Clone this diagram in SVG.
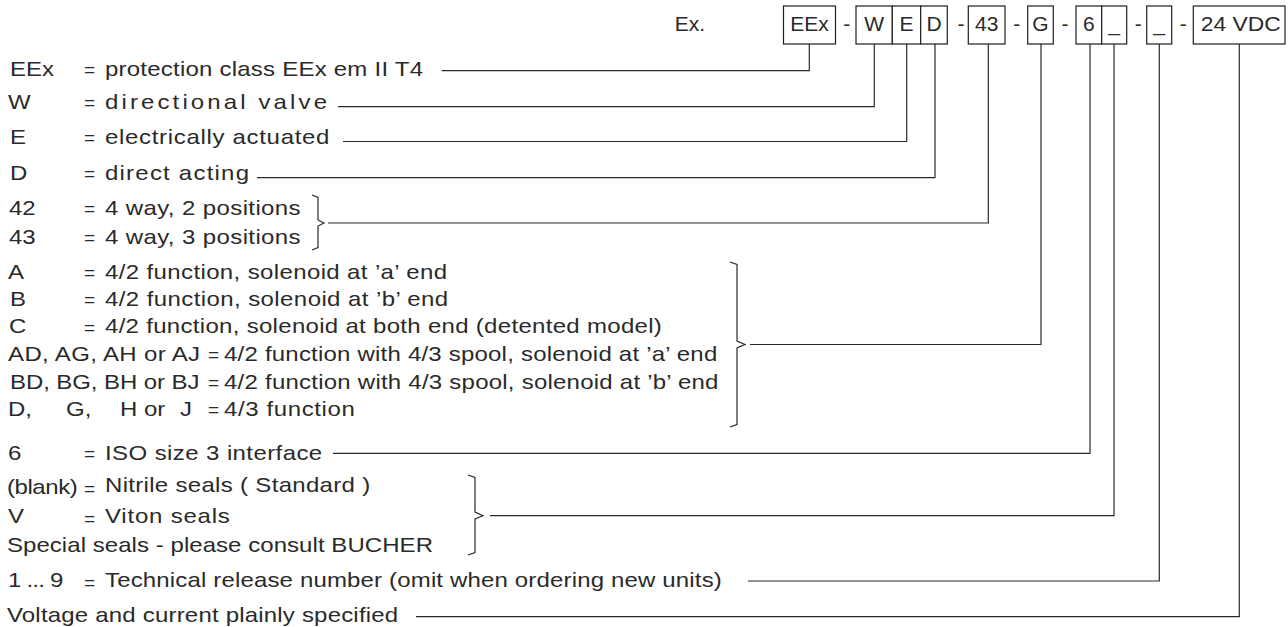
<svg xmlns="http://www.w3.org/2000/svg" width="1288" height="627" viewBox="0 0 1288 627">
<style>
.t{font-family:"Liberation Sans",Arial,Helvetica,sans-serif;font-size:20px;fill:#2a2a2a}
.q{font-family:"Liberation Sans",Arial,Helvetica,sans-serif;font-size:19px;fill:#2a2a2a}
.h{font-family:"Liberation Sans",Arial,Helvetica,sans-serif;font-size:21px;fill:#2a2a2a;text-anchor:middle}
.bx{fill:#fff;stroke:#1e1e1e;stroke-width:1.2}
.ln{fill:none;stroke:#2a2a2a;stroke-width:1.2}
</style>
<rect width="1288" height="627" fill="#fff"/>
<g id="connectors">
<path class="ln" d="M441.7 70.7 H809.3 V44"/>
<path class="ln" d="M338 106.7 H874.3 V44"/>
<path class="ln" d="M343 141.5 H906.7 V44"/>
<path class="ln" d="M257 177.7 H935 V44"/>
<path class="ln" d="M328 223 H988.3 V44"/>
<path class="ln" d="M750 344.5 H1041 V44"/>
<path class="ln" d="M333 453.3 H1090 V44"/>
<path class="ln" d="M490 515.7 H1114 V44"/>
<path class="ln" d="M748 581 H1159.3 V44"/>
<path class="ln" d="M416 616.7 H1239.3 V44"/>
<path class="ln" d="M312 195 L318 197.5 V220 L324 223 L318 226 V247.5 L312 250"/>
<path class="ln" d="M730 262 L737 264.5 V341 L745 344.5 L737 348 V424.5 L730 427"/>
<path class="ln" d="M468 475 L475 477.5 V512 L483 515.7 L475 519 V552.5 L468 555"/>
</g>
<g id="header">
<text class="h" x="690" y="31">Ex.</text>
<text class="h" x="846.7" y="31">-</text>
<text class="h" x="961" y="31">-</text>
<text class="h" x="1016.7" y="31">-</text>
<text class="h" x="1065" y="31">-</text>
<text class="h" x="1138.3" y="31">-</text>
<text class="h" x="1183.3" y="31">-</text>
</g>
<g id="box-EEx"><rect class="bx" x="783.5" y="6" width="52" height="38"/><text class="h" x="809.5" y="31">EEx</text></g>
<g id="box-W"><rect class="bx" x="856" y="6" width="36.3" height="38"/><text class="h" x="874.2" y="31">W</text></g>
<g id="box-E"><rect class="bx" x="892.3" y="6" width="28.4" height="38"/><text class="h" x="906.5" y="31">E</text></g>
<g id="box-D"><rect class="bx" x="920.7" y="6" width="26.6" height="38"/><text class="h" x="934" y="31">D</text></g>
<g id="box-43"><rect class="bx" x="968.3" y="6" width="36.7" height="38"/><text class="h" x="986.7" y="31">43</text></g>
<g id="box-G"><rect class="bx" x="1027.7" y="6" width="25.6" height="38"/><text class="h" x="1040.5" y="31">G</text></g>
<g id="box-6"><rect class="bx" x="1076" y="6" width="25.7" height="38"/><text class="h" x="1088.9" y="31">6</text></g>
<g id="box-seal"><rect class="bx" x="1101.7" y="6" width="25" height="38"/><text class="h" x="1114.2" y="31">_</text></g>
<g id="box-release"><rect class="bx" x="1146.7" y="6" width="25" height="38"/><text class="h" x="1159.2" y="31">_</text></g>
<g id="box-voltage"><rect class="bx" x="1193.3" y="6" width="91.7" height="38"/><text class="h" x="1240.7" y="31" textLength="80" lengthAdjust="spacingAndGlyphs">24 VDC</text></g>

<g id="leg-EEx"><text class="q" x="84" y="76">=</text><g class="t" transform="scale(1.2 1)"><text x="8.3" y="76">EEx</text><text x="87.5" y="76" textLength="265" lengthAdjust="spacing">protection class EEx em II T4</text></g></g>
<g id="leg-W"><text class="q" x="84" y="109">=</text><g class="t" transform="scale(1.2 1)"><text x="6.7" y="109">W</text><text x="87.5" y="109" textLength="185" lengthAdjust="spacing">directional valve</text></g></g>
<g id="leg-E"><text class="q" x="84" y="144">=</text><g class="t" transform="scale(1.2 1)"><text x="8.3" y="144">E</text><text x="87.5" y="144" textLength="187" lengthAdjust="spacing">electrically actuated</text></g></g>
<g id="leg-D"><text class="q" x="84" y="180">=</text><g class="t" transform="scale(1.2 1)"><text x="8.3" y="180">D</text><text x="87.5" y="180" textLength="120" lengthAdjust="spacing">direct acting</text></g></g>
<g id="leg-ways"><text class="q" x="84" y="215">=</text><text class="q" x="84" y="244">=</text><g class="t" transform="scale(1.2 1)"><text x="7.5" y="215">42</text><text x="87.5" y="215" textLength="163" lengthAdjust="spacing">4 way, 2 positions</text><text x="7.5" y="244">43</text><text x="87.5" y="244" textLength="163" lengthAdjust="spacing">4 way, 3 positions</text></g></g>
<g id="leg-function">
<text class="q" x="84" y="279">=</text><text class="q" x="84" y="306">=</text><text class="q" x="84" y="333.5">=</text><text class="q" x="208" y="361">=</text><text class="q" x="208" y="389">=</text><text class="q" x="208" y="416">=</text>
<g class="t" transform="scale(1.2 1)">
<text x="6.7" y="279">A</text><text x="87.5" y="279" textLength="285" lengthAdjust="spacing">4/2 function, solenoid at ’a’ end</text>
<text x="8.3" y="306">B</text><text x="87.5" y="306" textLength="286" lengthAdjust="spacing">4/2 function, solenoid at ’b’ end</text>
<text x="7.5" y="333.5">C</text><text x="87.5" y="333.5" textLength="464" lengthAdjust="spacing">4/2 function, solenoid at both end (detented model)</text>
<text x="6.7" y="361" textLength="160" lengthAdjust="spacing">AD, AG, AH or AJ</text><text x="186.7" y="361" textLength="411" lengthAdjust="spacing">4/2 function with 4/3 spool, solenoid at ’a’ end</text>
<text x="8.3" y="389" textLength="158" lengthAdjust="spacing">BD, BG, BH or BJ</text><text x="186.7" y="389" textLength="412" lengthAdjust="spacing">4/2 function with 4/3 spool, solenoid at ’b’ end</text>
<text x="6.7" y="416">D,</text><text x="55" y="416">G,</text><text x="100" y="416">H</text><text x="120" y="416">or</text><text x="150" y="416">J</text><text x="186.7" y="416" textLength="109" lengthAdjust="spacing">4/3 function</text>
</g></g>
<g id="leg-size"><text class="q" x="84" y="460">=</text><g class="t" transform="scale(1.2 1)"><text x="6.7" y="460">6</text><text x="87.5" y="460" textLength="181" lengthAdjust="spacing">ISO size 3 interface</text></g></g>
<g id="leg-seals"><text class="q" x="84" y="495">=</text><text class="q" x="84" y="525">=</text><g class="t" transform="scale(1.2 1)">
<text x="5.8" y="494" textLength="59" lengthAdjust="spacing">(blank)</text><text x="87.5" y="492" textLength="221" lengthAdjust="spacing">Nitrile seals ( Standard )</text>
<text x="6.7" y="523">V</text><text x="87.5" y="523" textLength="104" lengthAdjust="spacing">Viton seals</text>
<text x="5.8" y="552" textLength="355" lengthAdjust="spacing">Special seals - please consult BUCHER</text>
</g></g>
<g id="leg-release"><text class="q" x="84" y="589">=</text><g class="t" transform="scale(1.2 1)"><text x="6.7" y="587" textLength="46" lengthAdjust="spacing">1 ... 9</text><text x="87.5" y="587" textLength="514" lengthAdjust="spacing">Technical release number (omit when ordering new units)</text></g></g>
<g id="leg-voltage"><g class="t" transform="scale(1.2 1)"><text x="5.8" y="622" textLength="326" lengthAdjust="spacing">Voltage and current plainly specified</text></g></g>
</svg>
